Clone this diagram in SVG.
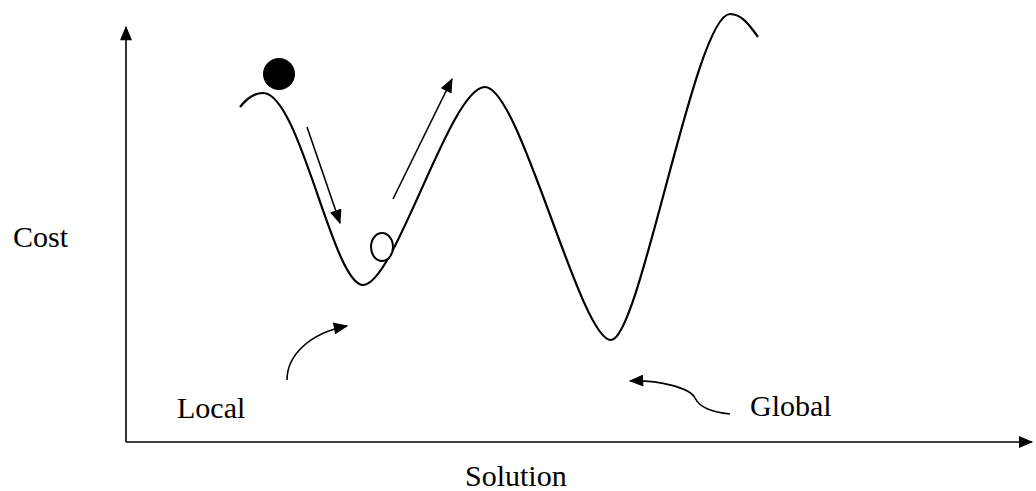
<svg xmlns="http://www.w3.org/2000/svg" width="1036" height="491" viewBox="0 0 1036 491">
<defs>
<style>
.ln{fill:none;stroke:#000;stroke-width:1.6}
.crv{fill:none;stroke:#000;stroke-width:2.2}
.lbl{font-family:"Liberation Serif","Times New Roman",serif;font-size:30px;fill:#000}
</style>
<marker id="ah" viewBox="0 0 12 10" refX="11" refY="5" markerWidth="15" markerHeight="12" markerUnits="userSpaceOnUse" orient="auto">
<path d="M0,0 L12,5 L0,10 Z" fill="#000"/>
</marker>
</defs>
<rect width="1036" height="491" fill="#fff"/>
<g id="axes">
<line class="ln" x1="126" y1="442" x2="126" y2="27" marker-end="url(#ah)"/>
<line class="ln" x1="126" y1="442" x2="1032" y2="442" marker-end="url(#ah)"/>
</g>
<g id="landscape">
<path class="crv" d="M240,107 C247,98 254,93 263,93 C300,93 333,285 363,285 C395,285 450,87 485,87 C520,87 580,340 611,340 C640,340 695,14 730,14 C742,14 750,26 758,37"/>
</g>
<g id="ball-start"><circle cx="279" cy="74" r="16" fill="#000"/></g>
<g id="ball-local"><ellipse cx="382" cy="247" rx="11" ry="14" fill="#fff" stroke="#000" stroke-width="2"/></g>
<g id="connectors">
<line class="ln" x1="307" y1="127" x2="340" y2="223" marker-end="url(#ah)"/>
<line class="ln" x1="393" y1="199" x2="452" y2="79" marker-end="url(#ah)"/>
<path class="ln" d="M287,380 C287,355 310,333 347,326" marker-end="url(#ah)"/>
<path class="ln" d="M730,414 C712,412 700,408 695,398 C690,388 660,380 630,381" marker-end="url(#ah)"/>
</g>
<g id="labels">
<text class="lbl" x="13" y="247">Cost</text>
<text class="lbl" x="177" y="418">Local</text>
<text class="lbl" x="750" y="416">Global</text>
<text class="lbl" x="465" y="486">Solution</text>
</g>
</svg>
